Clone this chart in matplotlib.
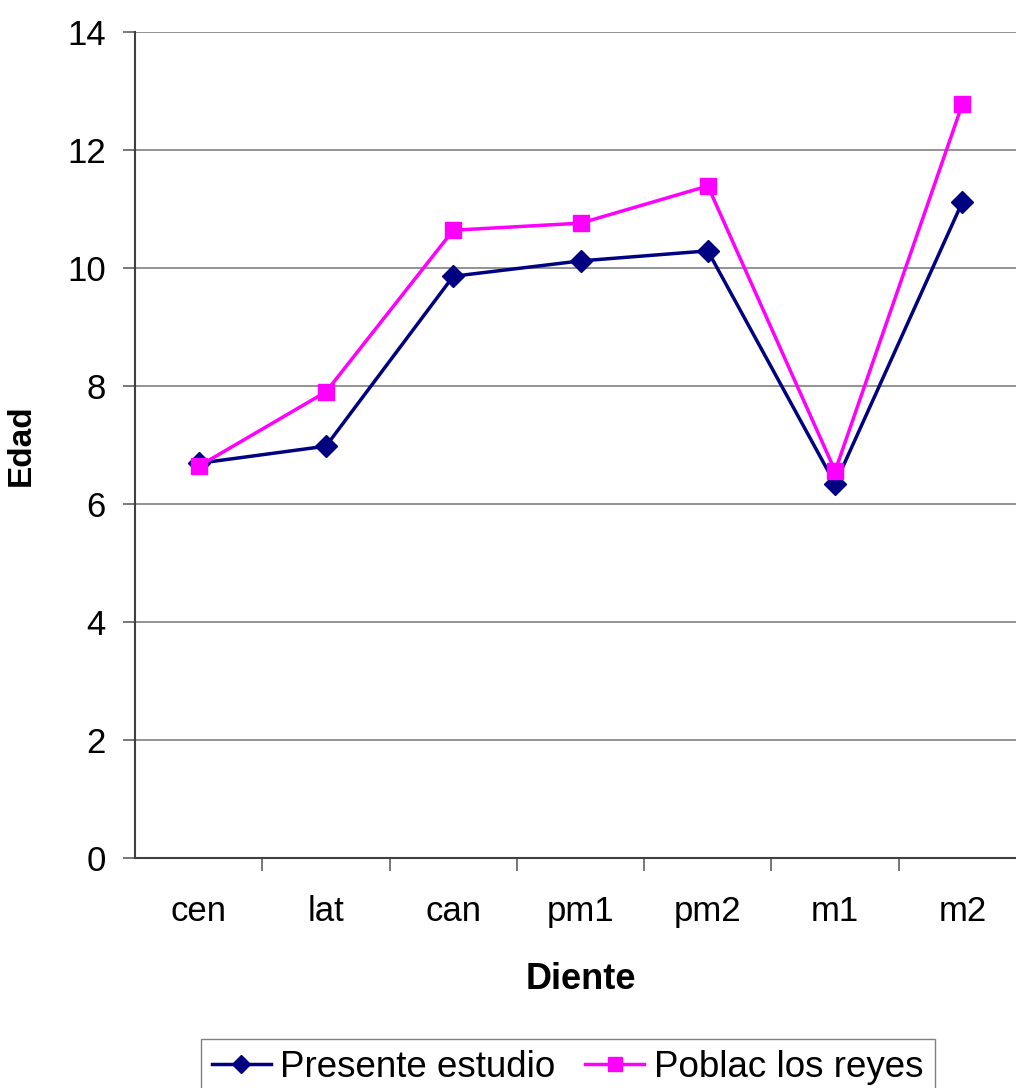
import matplotlib.pyplot as plt
import numpy as np

# tooth categories and mean eruption age per population
dientes = ['cen', 'lat', 'can', 'pm1', 'pm2', 'm1', 'm2']
presente = [6.69, 6.98, 9.86, 10.12, 10.29, 6.34, 11.12]
poblac = [6.64, 7.90, 10.64, 10.76, 11.39, 6.56, 12.78]

plt.rcParams['font.family'] = ['Liberation Sans', 'DejaVu Sans']

fig = plt.figure(figsize=(10.16, 10.88), dpi=100)
ax = fig.add_axes([0.1329, 0.2114, 0.877, 0.7592])

x = np.arange(len(dientes))
ax.plot(x, presente, color='#000080', lw=2.5, marker='D', ms=11,
        label='Presente estudio', zorder=3)
ax.plot(x, poblac, color='#FF00FF', lw=2.5, marker='s', ms=12,
        label='Poblac los reyes', zorder=4)

ax.set_xlim(-0.5, 6.5)
ax.set_ylim(0, 14)
ax.set_yticks(range(0, 15, 2))
ax.set_xticks(x)
ax.set_xticklabels(dientes)
ax.set_xticks(np.arange(0.5, 6.5, 1), minor=True)

ax.grid(axis='y', color='#808080', lw=1.2)
ax.set_axisbelow(True)
for s in ['top', 'right']:
    ax.spines[s].set_visible(False)
for s in ['left', 'bottom']:
    ax.spines[s].set_color('#404040')
    ax.spines[s].set_linewidth(1.5)

ax.tick_params(axis='y', length=9, width=1.2, color='#606060',
               labelsize=25, pad=12)
ax.tick_params(axis='x', which='major', length=0, labelsize=25, pad=27)
ax.tick_params(axis='x', which='minor', length=9, width=1.2, color='#606060')

ax.set_xlabel('Diente', fontsize=26, fontweight='bold', labelpad=24)
ax.set_ylabel('Edad', fontsize=24, fontweight='bold', labelpad=22)

fig.legend(loc='upper center', bbox_to_anchor=(0.5586, 0.045), ncol=2,
           frameon=True, fancybox=False, edgecolor='#606060',
           handlelength=1.6, handletextpad=0.27, columnspacing=0.8,
           borderpad=0.3, borderaxespad=0, markerscale=0.8,
           prop={'size': 26.5})

fig.savefig('out.png', dpi=100)
